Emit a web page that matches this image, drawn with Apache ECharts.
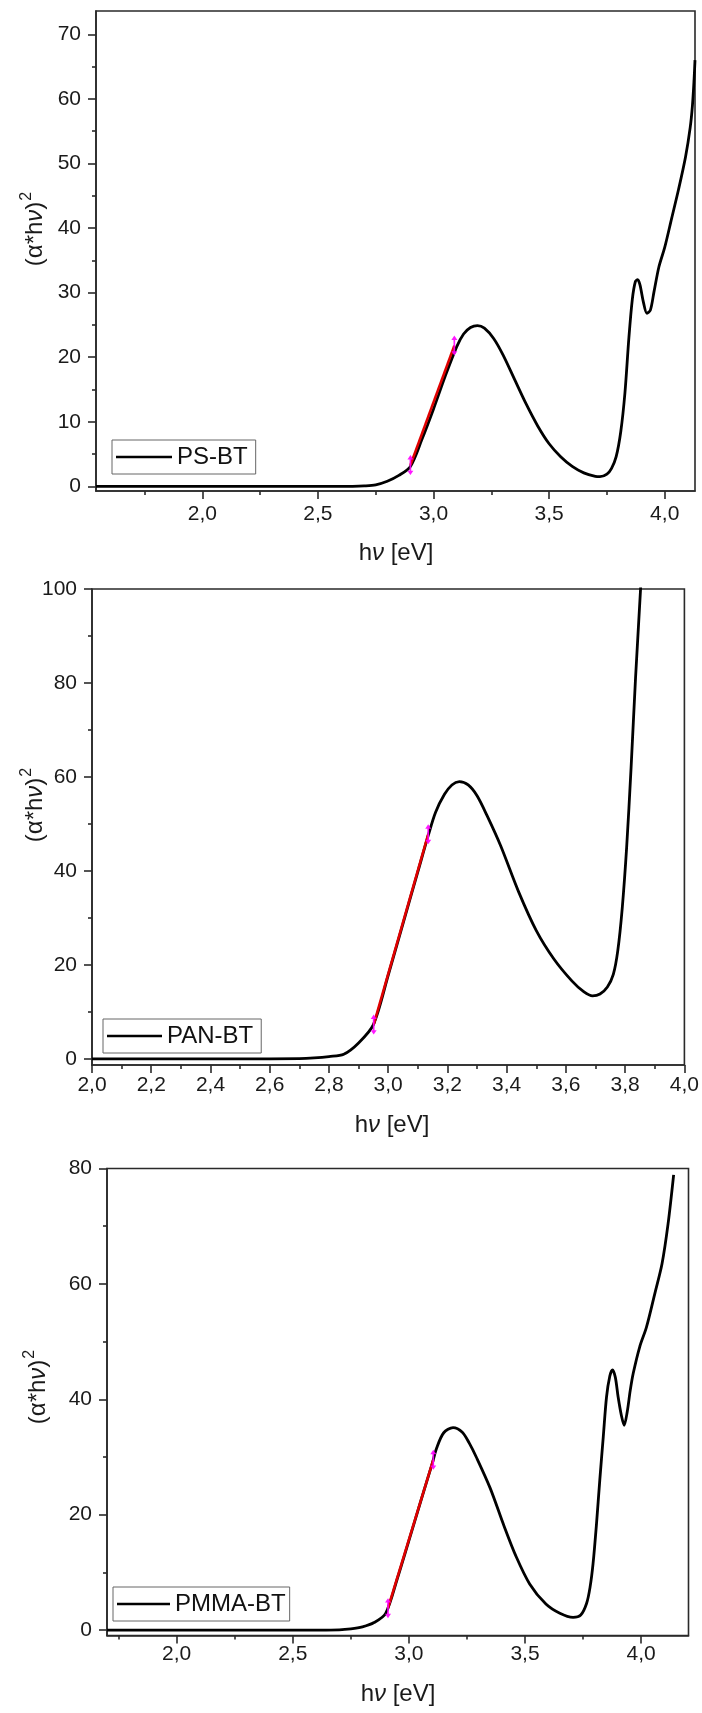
<!DOCTYPE html>
<html><head><meta charset="utf-8">
<script src="https://cdn.jsdelivr.net/npm/echarts@6.0.0/dist/echarts.min.js"></script>
<style>html,body{margin:0;padding:0;background:#fff}#c{width:702px;height:1713px}</style>
</head><body><div id="c"></div><script>
// ---------- DATA ----------
const psName = 'PS-BT';
const psX = [1.54,2.0,2.5,2.65,2.7,2.75,2.8,2.85,2.9,2.95,3.0,3.05,3.1,3.13,3.16,3.19,3.22,3.26,3.3,3.35,3.4,3.45,3.5,3.55,3.6,3.65,3.7,3.72,3.75,3.77,3.79,3.81,3.828,3.845,3.86,3.873,3.883,3.893,3.908,3.923,3.938,3.953,3.975,4.0,4.03,4.06,4.09,4.11,4.12,4.127,4.131];
const psY = [0,0,0,0.02,0.08,0.25,0.8,1.7,3.1,7.3,12.0,17.0,21.6,23.6,24.6,24.9,24.5,22.9,20.4,16.6,12.8,9.4,6.6,4.6,3.1,2.1,1.55,1.5,1.9,2.8,4.6,8.5,14.5,23,29,31.7,32,31.2,28.5,26.8,27.3,30,34,37,41.5,46,51,55.5,59,63,66];
const psFitX = [2.90, 3.09];
const psFitY = [3.3, 21.8];
const psXMajor = [2.0,2.5,3.0,3.5,4.0];
const psXMinor = [1.75,2.25,2.75,3.25,3.75];
const psYMajor = [0,10,20,30,40,50,60,70];
const psYMinor = [5,15,25,35,45,55,65];

const panName = 'PAN-BT';
const panX = [2.0,2.5,2.7,2.75,2.8,2.85,2.9,2.95,3.0,3.05,3.1,3.135,3.16,3.19,3.215,3.24,3.27,3.3,3.335,3.38,3.44,3.5,3.56,3.62,3.66,3.69,3.715,3.74,3.76,3.775,3.79,3.805,3.82,3.835,3.852,3.86];
const panY = [0,0,0.05,0.2,0.5,1.0,3.4,7.3,17.8,28.8,39.8,47.5,52.5,56.3,58.3,59.0,58.3,56.0,51.6,45.3,35.6,27.3,21.2,16.6,14.3,13.4,13.8,15.3,18.0,23,32,45,62,81,100,110];
const panFitX = [2.951, 3.135];
const panFitY = [7.3, 47.8];
const panXMajor = [2.0,2.2,2.4,2.6,2.8,3.0,3.2,3.4,3.6,3.8,4.0];
const panXMinor = [2.1,2.3,2.5,2.7,2.9,3.1,3.3,3.5,3.7,3.9];
const panYMajor = [0,20,40,60,80,100];
const panYMinor = [10,30,50,70,90];

const pmmaName = 'PMMA-BT';
const pmmaX = [1.70,2.0,2.5,2.7,2.75,2.8,2.85,2.9,2.95,3.0,3.05,3.1,3.12,3.15,3.19,3.23,3.26,3.29,3.35,3.41,3.46,3.52,3.59,3.65,3.707,3.74,3.765,3.78,3.793,3.808,3.822,3.837,3.851,3.865,3.877,3.889,3.901,3.915,3.927,3.94,3.953,3.966,3.994,4.023,4.06,4.09,4.116,4.14];
const pmmaY = [0,0,0,0.05,0.2,0.55,1.3,2.9,8.9,15.5,22.2,28.8,31.6,34.2,35.1,34.3,32.4,30.0,24.6,18.0,12.9,8.0,4.5,2.9,2.2,2.6,4.6,7.4,11.5,18.5,26,33.5,40.4,44,45.1,43.8,40.4,37.2,35.5,37.8,41.5,44.5,49.1,52.5,58.5,63.5,70.4,78.9];
const pmmaFitX = [2.91, 3.105];
const pmmaFitY = [3.8, 29.5];
const pmmaXMajor = [2.0,2.5,3.0,3.5,4.0];
const pmmaXMinor = [1.75,2.25,2.75,3.25,3.75];
const pmmaYMajor = [0,20,40,60,80];
const pmmaYMinor = [10,30,50,70];

// ---------- CHART ----------
const FONT = '"Liberation Sans", Arial, sans-serif';
const AX = '#2a2a2a';
const zip = (xs, ys) => xs.map((x, i) => [x, ys[i]]);
const markerPath = 'path://M0,4 L2.5,0 L5,4 L3.2,4 L3.2,14 L5,14 L2.5,18 L0,14 L1.8,14 L1.8,4 Z';

const panels = [
  {name: psName, x: psX, y: psY, fx: psFitX, fy: psFitY, xMaj: psXMajor, xMin: psXMinor, yMaj: psYMajor, yMin: psYMinor,
   grid: {left: 96, top: 11, width: 599, height: 480}, xr: [1.54, 4.131], yr: [-0.71, 73.6],
   xMargin: 13, yMargin: 15, legend: {left: 112, top: 440, padding: [4, 8, 4, 4], itemWidth: 56},
   yTitle: [31, 229], xTitle: [396, 553]},
  {name: panName, x: panX, y: panY, fx: panFitX, fy: panFitY, xMaj: panXMajor, xMin: panXMinor, yMaj: panYMajor, yMin: panYMinor,
   grid: {left: 92, top: 589, width: 597, height: 476}, xr: [2.0, 4.0], yr: [-1.3, 100],
   xMargin: 10, yMargin: 15, legend: {left: 103, top: 1019, padding: [4, 8, 4, 4], itemWidth: 55},
   yTitle: [31, 805], xTitle: [392, 1125]},
  {name: pmmaName, x: pmmaX, y: pmmaY, fx: pmmaFitX, fy: pmmaFitY, xMaj: pmmaXMajor, xMin: pmmaXMinor, yMaj: pmmaYMajor, yMin: pmmaYMinor,
   grid: {left: 107, top: 1168.5, width: 581.5, height: 467}, xr: [1.70, 4.204], yr: [-0.94, 80],
   xMargin: 8, yMargin: 15, legend: {left: 113, top: 1587, padding: [4, 4, 4, 4], itemWidth: 53},
   yTitle: [34, 1387], xTitle: [398, 1694]}
];

const option = {animation: false, backgroundColor: '#fff', grid: [], xAxis: [], yAxis: [], series: [], legend: [], graphic: []};

panels.forEach((p, i) => {
  option.grid.push(Object.assign({show: true, borderColor: AX, borderWidth: 1.6, backgroundColor: 'transparent'}, p.grid));
  const tickStyle = {color: AX, width: 1.6};
  option.xAxis.push({
    type: 'value', gridIndex: i, position: 'bottom', min: p.xr[0], max: p.xr[1],
    axisLine: {show: true, onZero: false, lineStyle: {color: AX, width: 1.6}},
    axisTick: {show: true, length: 8, inside: false, customValues: p.xMaj, lineStyle: tickStyle},
    axisLabel: {show: true, customValues: p.xMaj, margin: p.xMargin, fontSize: 21, color: '#1a1a1a', fontFamily: FONT,
      formatter: v => v.toFixed(1).replace('.', ',')},
    splitLine: {show: false}
  });
  option.xAxis.push({
    type: 'value', gridIndex: i, position: 'bottom', min: p.xr[0], max: p.xr[1],
    axisLine: {show: false, onZero: false},
    axisTick: {show: true, length: 4, inside: false, customValues: p.xMin, lineStyle: tickStyle},
    axisLabel: {show: false}, splitLine: {show: false}
  });
  option.yAxis.push({
    type: 'value', gridIndex: i, position: 'left', min: p.yr[0], max: p.yr[1],
    axisLine: {show: true, onZero: false, lineStyle: {color: AX, width: 1.6}},
    axisTick: {show: true, length: 8, inside: false, customValues: p.yMaj, lineStyle: tickStyle},
    axisLabel: {show: true, customValues: p.yMaj, margin: p.yMargin, fontSize: 21, color: '#1a1a1a', fontFamily: FONT,
      formatter: v => String(Math.round(v))},
    splitLine: {show: false}
  });
  option.yAxis.push({
    type: 'value', gridIndex: i, position: 'left', min: p.yr[0], max: p.yr[1],
    axisLine: {show: false, onZero: false},
    axisTick: {show: true, length: 4, inside: false, customValues: p.yMin, lineStyle: tickStyle},
    axisLabel: {show: false}, splitLine: {show: false}
  });
  const xi = 2 * i, yi = 2 * i;
  option.series.push({
    name: p.name, type: 'line', xAxisIndex: xi, yAxisIndex: yi, data: zip(p.x, p.y),
    symbol: 'none', showSymbol: false, smooth: 0.3, clip: true,
    itemStyle: {color: '#000'}, lineStyle: {color: '#000', width: 2.8, join: 'round'}, z: 3
  });
  option.series.push({
    name: p.name + ' fit', type: 'line', xAxisIndex: xi, yAxisIndex: yi, data: zip(p.fx, p.fy),
    symbol: 'none', showSymbol: false, clip: true,
    itemStyle: {color: '#e00000'}, lineStyle: {color: '#e00000', width: 2.6}, z: 4
  });
  option.series.push({
    name: p.name + ' markers', type: 'scatter', xAxisIndex: xi, yAxisIndex: yi, data: zip(p.fx, p.fy),
    symbol: markerPath, symbolSize: [6, 20], itemStyle: {color: '#ff00ff', opacity: 0.9}, z: 5
  });
  option.legend.push(Object.assign({
    data: [{name: p.name, icon: 'rect'}], orient: 'horizontal', itemHeight: 2.5,
    selectedMode: false, borderColor: '#666', borderWidth: 1, borderRadius: 0, backgroundColor: '#fff',
    textStyle: {fontSize: 24, fontFamily: FONT, color: '#111', lineHeight: 26}, z: 10
  }, p.legend));
  option.graphic.push({
    type: 'text', x: p.yTitle[0], y: p.yTitle[1], rotation: Math.PI / 2, z: 20,
    style: {
      text: '{n|(α*h}{i|ν}{n|)}{s|2}', align: 'center', verticalAlign: 'middle', fill: '#1a1a1a',
      rich: {
        n: {fontSize: 24, fontFamily: FONT, fill: '#1a1a1a', verticalAlign: 'bottom', lineHeight: 32},
        i: {fontSize: 24, fontFamily: FONT, fill: '#1a1a1a', fontStyle: 'italic', verticalAlign: 'bottom', lineHeight: 32},
        s: {fontSize: 16, fontFamily: FONT, fill: '#1a1a1a', verticalAlign: 'bottom', lineHeight: 32, padding: [0, 0, 12, 1]}
      }
    }
  });
  option.graphic.push({
    type: 'text', x: p.xTitle[0], y: p.xTitle[1], z: 20,
    style: {
      text: '{n|h}{i|ν}{n| [eV]}', align: 'center', verticalAlign: 'middle', fill: '#1a1a1a',
      rich: {
        n: {fontSize: 24, fontFamily: FONT, fill: '#1a1a1a'},
        i: {fontSize: 24, fontFamily: FONT, fill: '#1a1a1a', fontStyle: 'italic'}
      }
    }
  });
});

const chart = echarts.init(document.getElementById('c'), null, {renderer: 'canvas'});
chart.setOption(option);
</script></body></html>
